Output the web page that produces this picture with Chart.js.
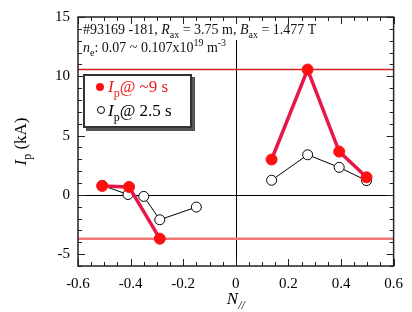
<!DOCTYPE html>
<html lang="en">
<head>
    <meta charset="UTF-8">
    <title>Ip vs N//</title>
    <script src="https://cdn.jsdelivr.net/npm/chart.js"></script>
    <style>
        body { margin: 0; background: #fff; }
    </style>
</head>
<body>
    <canvas id="myChart" width="412" height="312"></canvas>

    <script>
        // data (N// , Ip in kA)
        var nLeft9 = [-0.508, -0.406, -0.289];
        var ipLeft9 = [0.75, 0.67, -3.7];
        var nRight9 = [0.136, 0.273, 0.393, 0.497];
        var ipRight9 = [2.98, 10.57, 3.65, 1.48];

        var nLeft25 = [-0.508, -0.41, -0.35, -0.289, -0.15];
        var ipLeft25 = [0.8, 0.03, -0.13, -2.1, -1.03];
        var nRight25 = [0.136, 0.273, 0.393, 0.497];
        var ipRight25 = [1.23, 3.38, 2.32, 1.2];

        // horizontal marker levels
        var levelMax = 10.57;
        var levelMin = -3.7;

        var xTicks = [-0.6, -0.4, -0.2, 0, 0.2, 0.4, 0.6];
        var yTicks = [-5, 0, 5, 10, 15];

        var SERIF = '"Liberation Serif", "Times New Roman", serif';

        function pts(xs, ys) {
            return xs.map(function (x, i) { return { x: x, y: ys[i] }; });
        }

        // draws a list of text runs: {t, it, sub, sup}
        function drawRuns(ctx, x, y, runs, size, color) {
            ctx.fillStyle = color;
            ctx.textBaseline = 'alphabetic';
            ctx.textAlign = 'left';
            runs.forEach(function (r) {
                var s = (r.sub || r.sup) ? Math.round(size * 0.7) : size;
                var dy = r.sub ? size * 0.3 : (r.sup ? -size * 0.4 : 0);
                ctx.font = (r.it ? 'italic ' : '') + s + 'px ' + SERIF;
                ctx.fillText(r.t, x, y + dy);
                x += ctx.measureText(r.t).width;
            });
            return x;
        }
        function runsWidth(ctx, runs, size) {
            var w = 0;
            runs.forEach(function (r) {
                var s = (r.sub || r.sup) ? Math.round(size * 0.7) : size;
                ctx.font = (r.it ? 'italic ' : '') + s + 'px ' + SERIF;
                w += ctx.measureText(r.t).width;
            });
            return w;
        }

        var decor = {
            id: 'decor',
            beforeDatasetsDraw: function (chart) {
                var ctx = chart.ctx, a = chart.chartArea;
                var xs = chart.scales.x, ys = chart.scales.y;
                ctx.save();
                ctx.strokeStyle = '#000';
                ctx.lineWidth = 1;
                // zero lines
                var y0 = Math.round(ys.getPixelForValue(0)) + 0.5;
                ctx.beginPath(); ctx.moveTo(a.left, y0); ctx.lineTo(a.right, y0); ctx.stroke();
                var x0 = Math.round(xs.getPixelForValue(0)) + 0.5;
                ctx.beginPath(); ctx.moveTo(x0, 40); ctx.lineTo(x0, a.bottom); ctx.stroke();
                ctx.restore();
            },
            afterDraw: function (chart) {
                var ctx = chart.ctx, a = chart.chartArea;
                var xs = chart.scales.x, ys = chart.scales.y;
                ctx.save();

                // inward ticks, all four sides
                ctx.strokeStyle = '#222';
                ctx.lineWidth = 1;
                ctx.beginPath();
                for (var i = -12; i <= 12; i++) {
                    var v = i * 0.05;
                    var px = Math.round(xs.getPixelForValue(v)) + 0.5;
                    var len = (i % 4 === 0) ? 7 : 4;
                    ctx.moveTo(px, a.bottom); ctx.lineTo(px, a.bottom - len);
                    ctx.moveTo(px, a.top); ctx.lineTo(px, a.top + len);
                }
                for (var j = -6; j <= 15; j++) {
                    var py = Math.round(ys.getPixelForValue(j)) + 0.5;
                    var l2 = (j % 5 === 0) ? 7 : 4;
                    ctx.moveTo(a.left, py); ctx.lineTo(a.left + l2, py);
                    ctx.moveTo(a.right, py); ctx.lineTo(a.right - l2, py);
                }
                ctx.stroke();

                // frame
                ctx.strokeStyle = '#222';
                ctx.lineWidth = 1.5;
                ctx.strokeRect(a.left, a.top, a.right - a.left, a.bottom - a.top);

                // annotation
                drawRuns(ctx, 83, 34, [
                    { t: '#93169 -181, ' }, { t: 'R', it: true }, { t: 'ax', sub: true },
                    { t: ' = 3.75 m, ' }, { t: 'B', it: true }, { t: 'ax', sub: true },
                    { t: ' = 1.477 T' }
                ], 14, '#111');
                drawRuns(ctx, 83, 52, [
                    { t: 'n', it: true }, { t: 'e', sub: true }, { t: ': 0.07 ~ 0.107x10' },
                    { t: '19', sup: true }, { t: ' m' }, { t: '-3', sup: true }
                ], 14, '#111');

                // legend box
                ctx.fillStyle = '#555';
                ctx.fillRect(86, 77, 109, 54);
                ctx.fillStyle = '#fff';
                ctx.fillRect(83, 74, 109, 54);
                ctx.strokeStyle = '#333';
                ctx.lineWidth = 2;
                ctx.strokeRect(84, 75, 107, 52);

                ctx.fillStyle = '#ff1010';
                ctx.beginPath(); ctx.arc(100, 87, 4, 0, Math.PI * 2); ctx.fill();
                drawRuns(ctx, 108, 92, [
                    { t: 'I', it: true }, { t: 'p', sub: true }, { t: '@ ~9 s' }
                ], 17, '#f01818');

                ctx.fillStyle = '#fff';
                ctx.strokeStyle = '#000';
                ctx.lineWidth = 1;
                ctx.beginPath(); ctx.arc(101, 110, 3.5, 0, Math.PI * 2); ctx.fill(); ctx.stroke();
                drawRuns(ctx, 108, 116, [
                    { t: 'I', it: true }, { t: 'p', sub: true }, { t: '@ 2.5 s' }
                ], 17, '#000');

                // axis titles
                var xr = [{ t: 'N', it: true }, { t: '//', it: true, sub: true }];
                var cx = (a.left + a.right) / 2;
                drawRuns(ctx, cx - runsWidth(ctx, xr, 17) / 2, 304, xr, 17, '#000');

                var yr = [{ t: 'I', it: true }, { t: 'p', sub: true }, { t: ' (kA)' }];
                ctx.translate(26, (a.top + a.bottom) / 2);
                ctx.rotate(-Math.PI / 2);
                drawRuns(ctx, -runsWidth(ctx, yr, 17) / 2, 0, yr, 17, '#000');
                ctx.restore();
            }
        };

        var red9 = {
            showLine: true,
            borderColor: '#e8174a',
            borderWidth: 3.5,
            backgroundColor: '#ff1010',
            pointBackgroundColor: '#ff1010',
            pointBorderColor: '#ff1010',
            pointRadius: 5.5,
            pointBorderWidth: 1
        };
        var black25 = {
            showLine: true,
            borderColor: '#000',
            borderWidth: 1,
            backgroundColor: '#fff',
            pointBackgroundColor: '#fff',
            pointBorderColor: '#000',
            pointRadius: 5,
            pointBorderWidth: 1
        };

        var ctx = document.getElementById('myChart').getContext('2d');
        var myChart = new Chart(ctx, {
            type: 'scatter',
            data: {
                datasets: [
                    Object.assign({ label: 'Ip @ ~9 s', data: pts(nLeft9, ipLeft9) }, red9),
                    Object.assign({ label: 'Ip @ ~9 s right', data: pts(nRight9, ipRight9) }, red9),
                    Object.assign({ label: 'Ip @ 2.5 s', data: pts(nLeft25, ipLeft25) }, black25),
                    Object.assign({ label: 'Ip @ 2.5 s right', data: pts(nRight25, ipRight25) }, black25),
                    {
                        label: 'max', data: [{ x: -0.6, y: levelMax }, { x: 0.6, y: levelMax }],
                        showLine: true, borderColor: '#d42020', borderWidth: 1.5, pointRadius: 0
                    },
                    {
                        label: 'min', data: [{ x: -0.6, y: levelMin }, { x: 0.6, y: levelMin }],
                        showLine: true, borderColor: '#f07878', borderWidth: 2.5, pointRadius: 0
                    }
                ]
            },
            options: {
                responsive: false,
                animation: false,
                layout: { padding: { top: 15, right: 14, left: 0, bottom: 0 } },
                plugins: { legend: { display: false }, tooltip: { enabled: false } },
                scales: {
                    x: {
                        type: 'linear',
                        min: -0.6, max: 0.6,
                        grid: { display: false, drawTicks: false },
                        border: { display: false },
                        afterFit: function (s) { s.height = 46; },
                        afterBuildTicks: function (s) { s.ticks = xTicks.map(function (v) { return { value: v }; }); },
                        ticks: {
                            padding: 9,
                            color: '#000',
                            font: { family: SERIF, size: 15 },
                            maxRotation: 0,
                            callback: function (v) { return Math.abs(v) < 1e-9 ? '0' : v.toFixed(1); }
                        }
                    },
                    y: {
                        min: -6, max: 15,
                        grid: { display: false, drawTicks: false },
                        border: { display: false },
                        afterFit: function (s) { s.width = 78; },
                        afterBuildTicks: function (s) { s.ticks = yTicks.map(function (v) { return { value: v }; }); },
                        ticks: {
                            padding: 8,
                            color: '#000',
                            font: { family: SERIF, size: 15 }
                        }
                    }
                }
            },
            plugins: [decor]
        });
    </script>
</body>
</html>
